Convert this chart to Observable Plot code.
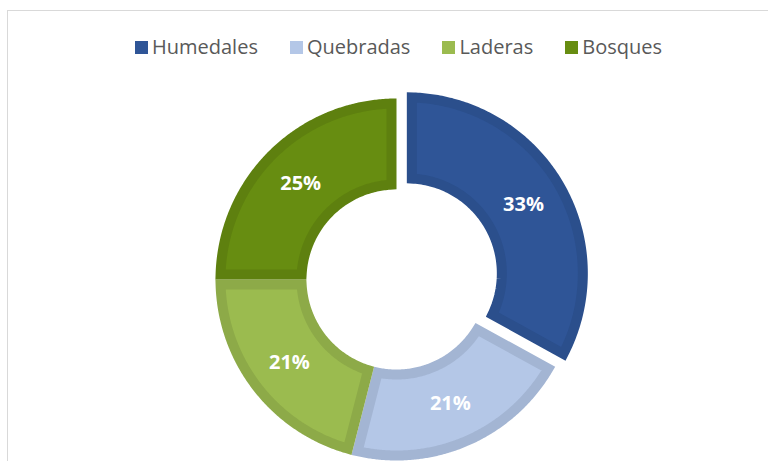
<!DOCTYPE html>
<html><head><meta charset="utf-8">
<script src="https://cdn.jsdelivr.net/npm/d3@7"></script>
<script src="https://cdn.jsdelivr.net/npm/@observablehq/plot@0.6"></script>
<style>
html,body{margin:0;padding:0;background:#fff;overflow:hidden;width:768px;height:461px;}
#frame{position:absolute;left:7px;top:10px;width:2000px;height:2000px;border-left:1px solid #d9d9d9;border-top:1px solid #d9d9d9;}
#legend{position:relative;height:80px;box-sizing:border-box;padding-top:35px;padding-left:29px;display:flex;justify-content:center;align-items:flex-start;font-family:"Open Sans";font-size:20px;color:#595959;line-height:24px;}
.item{display:flex;align-items:center;margin:0 16px;}
.sw{width:13px;height:13px;margin-right:4px;}
#chart{position:relative;}
</style></head><body>
<div id="frame"></div>
<div id="legend"></div>
<div id="chart"></div>
<script>
const categories = ["Humedales", "Quebradas", "Laderas", "Bosques"];
const values = [33, 21, 21, 25];
const fills = ["#2F5597", "#B4C7E7", "#9BBB4F", "#678D11"];
const borders = ["#2B4F8C", "#A3B5D3", "#8DAA48", "#5E800F"];
const exploded = ["Humedales"];

// legend
const legend = document.getElementById("legend");
categories.forEach((c, i) => {
  const it = document.createElement("div");
  it.className = "item";
  const sw = document.createElement("div");
  sw.className = "sw";
  sw.style.background = fills[i];
  const t = document.createElement("span");
  t.textContent = c;
  it.appendChild(sw); it.appendChild(t);
  legend.appendChild(it);
});

// geometry (units: outer radius = 1)
const PX = 181;
const half = 5 / PX;
const rOut = 1, rIn = 90 / PX;
const explodeDist = 12 / PX;
const midR = (rOut + rIn) / 2;

const arcs = d3.pie().sort(null).value(d => d)(values);
const rows = [];
const labels = [];
arcs.forEach((p, i) => {
  const mid = (p.startAngle + p.endAngle) / 2;
  const off = exploded.includes(categories[i]) ? explodeDist : 0;
  const ox = off * Math.sin(mid), oy = off * Math.cos(mid);
  const Ro = rOut - half, Ri = rIn + half;
  const a0o = p.startAngle + Math.asin(half / Ro), a1o = p.endAngle - Math.asin(half / Ro);
  const a0i = p.startAngle + Math.asin(half / Ri), a1i = p.endAngle - Math.asin(half / Ri);
  const mo = (a0o + a1o) / 2;
  const N = 90;
  const push = (r, a) => rows.push({category: categories[i], fill: fills[i], stroke: borders[i], x: ox + r * Math.sin(a), y: oy + r * Math.cos(a)});
  for (let k = 0; k <= N; k++) push(Ro, mo + (a1o - mo) * k / N);
  for (let k = 0; k <= N; k++) push(Ri, a1i + (a0i - a1i) * k / N);
  for (let k = 0; k <= N; k++) push(Ro, a0o + (mo - a0o) * k / N);
  labels.push({x: ox + midR * Math.sin(mid), y: oy + midR * Math.cos(mid), text: `${values[i]}%`});
});

const chart = Plot.plot({
  width: 768,
  height: 381,
  marginLeft: 215,
  marginRight: 191,
  marginTop: 18,
  marginBottom: 1,
  x: {axis: null, domain: [-1, 1]},
  y: {axis: null, domain: [-1, 1]},
  color: {type: "identity"},
  style: {fontFamily: "Open Sans", background: "transparent", overflow: "visible"},
  marks: [
    Plot.line(rows, {x: "x", y: "y", z: "category", fill: "fill", stroke: "stroke", strokeWidth: 10, strokeLinejoin: "miter", strokeMiterlimit: 20, curve: "linear"}),
    Plot.text(labels, {x: "x", y: "y", text: "text", fill: "white", fontSize: 20, fontWeight: "bold"})
  ]
});
document.getElementById("chart").appendChild(chart);
</script>
</body></html>
